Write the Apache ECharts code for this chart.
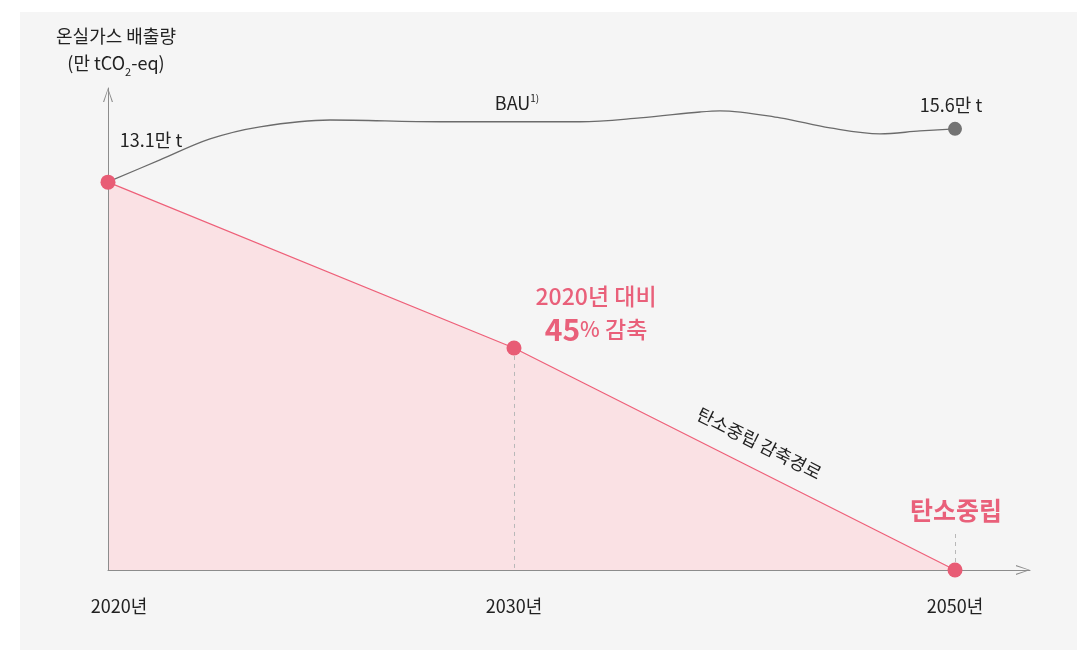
<!DOCTYPE html>
<html>
<head>
<meta charset="utf-8">
<title>온실가스 배출량 감축경로</title>
<script src="https://cdn.jsdelivr.net/npm/echarts@6/dist/echarts.min.js"></script>
<style>
  html, body { margin: 0; padding: 0; background: #ffffff; }
  #chart { width: 1087px; height: 653px; }
</style>
</head>
<body>
<div id="chart"></div>
<script>
// 가로축: 2020~2050 간격이 원본 그림에서 균등하지 않아 축상 위치로 둔다
const yearLabels = ['2020년', '2030년', '2050년']
const yearPos = [0, 40.6, 84.7]
// 탄소중립 감축경로 (만 tCO2-eq)
const pathValues = [13.1, 7.5, 0]
// BAU 곡선
const bauPos = [0, 5.2, 10.2, 15.2, 22.2, 33.2, 40.9, 47.2, 53.2, 59.2, 61.2, 67.2, 72.2, 77.2, 81.2, 84.7]
const bauValues = [13.11, 13.85, 14.56, 14.97, 15.2, 15.14, 15.14, 15.14, 15.27, 15.47, 15.51, 15.27, 14.93, 14.73, 14.83, 14.9]
const bauStartLabel = '13.1만 t'
const bauEndLabel = '15.6만 t'
const bauName = 'BAU'
const pathName = '탄소중립 감축경로'
const goalName = '탄소중립'

const FONT = '"Noto Sans CJK KR", "Noto Sans", sans-serif'
const PINK = '#e9607a'
const TEXT = '#222222'
const AXIS = '#8c8c8c'
const ARROW = 'path://M5,0 L10,14 L8.8,14 L5,1.8 L1.2,14 L0,14 Z'

const chart = echarts.init(document.getElementById('chart'))

const pathData = yearPos.map((x, i) => [x, pathValues[i]])
const bauData = bauPos.map((x, i) => {
  if (i === bauPos.length - 1) {
    return { value: [x, bauValues[i]], symbol: 'circle', symbolSize: 14 }
  }
  return [x, bauValues[i]]
})
const lastBau = bauPos.length - 1

const axisLine = {
  show: true,
  lineStyle: { color: AXIS, width: 1 },
  symbol: ['none', ARROW],
  symbolSize: [10, 14],
  symbolOffset: [0, -7]
}

chart.setOption({
  animation: false,
  textStyle: { fontFamily: FONT },
  graphic: [{
    type: 'rect',
    z: -10,
    shape: { x: 20, y: 12, width: 1057, height: 638 },
    style: { fill: '#f5f5f5' }
  }],
  grid: { left: 108, right: 57, top: 88, bottom: 83 },
  xAxis: {
    type: 'value',
    z: 3,
    min: 0,
    max: 92.2,
    axisLine: axisLine,
    axisTick: { show: false },
    splitLine: { show: false },
    axisLabel: {
      customValues: yearPos,
      margin: 27,
      fontSize: 18,
      color: TEXT,
      fontFamily: FONT,
      formatter: function (v) {
        let i = yearPos.findIndex(p => Math.abs(p - v) < 0.01)
        if (i < 0) return ''
        return i === 0 ? '{first|' + yearLabels[i] + '}' : yearLabels[i]
      },
      rich: {
        first: { fontSize: 18, color: TEXT, fontFamily: FONT, padding: [0, 0, 0, 22] }
      }
    }
  },
  yAxis: {
    type: 'value',
    z: 3,
    min: 0,
    max: 16.28,
    name: '{t|온실가스 배출량}\n{t|(만 tCO}{s|2}{t|-eq)}',
    nameLocation: 'end',
    nameGap: 11,
    nameTextStyle: {
      padding: [0, 0, 0, 16],
      rich: {
        t: { fontSize: 18, lineHeight: 27, color: TEXT, fontFamily: FONT },
        s: { fontSize: 11, lineHeight: 27, color: TEXT, fontFamily: FONT, verticalAlign: 'bottom', padding: [10, 0, 0, 0] }
      }
    },
    axisLine: axisLine,
    axisTick: { show: false },
    axisLabel: { show: false },
    splitLine: { show: false }
  },
  series: [
    {
      // 감축경로 아래 면적
      type: 'line',
      z: 1,
      data: pathData,
      symbol: 'none',
      lineStyle: { width: 0 },
      areaStyle: { color: '#fae1e4', opacity: 1 },
      silent: true,
      markLine: {
        z: 1.5,
        silent: true,
        symbol: ['none', 'none'],
        label: { show: false },
        lineStyle: { type: [4, 4], color: '#b8b8b8', width: 1 },
        data: [
          [{ coord: [yearPos[1], pathValues[1]] }, { coord: [yearPos[1], 0] }],
          [{ coord: [yearPos[2], 0] }, { coord: [yearPos[2], 1.28] }]
        ]
      }
    },
    {
      name: bauName,
      type: 'line',
      z: 2,
      data: bauData,
      smooth: 0.35,
      symbol: 'none',
      showSymbol: true,
      itemStyle: { color: '#737373' },
      lineStyle: { color: '#6b6b6b', width: 1.3 },
      markPoint: {
        symbol: 'circle',
        symbolSize: 0,
        silent: true,
        label: { show: true, position: 'inside', color: TEXT, fontSize: 18, fontFamily: FONT },
        data: [
          { coord: [bauPos[0], bauValues[0]], label: { offset: [43, -42], formatter: bauStartLabel } },
          {
            coord: [bauPos[6], bauValues[6]],
            label: {
              offset: [0, -19],
              formatter: '{b|' + bauName + '}{sup|1)}',
              rich: {
                b: { fontSize: 18, color: TEXT, fontFamily: FONT },
                sup: { fontSize: 10, color: TEXT, fontFamily: FONT, verticalAlign: 'top', padding: [0, 0, 10, 0] }
              }
            }
          },
          { coord: [bauPos[lastBau], bauValues[lastBau]], label: { offset: [-4, -24], formatter: bauEndLabel } }
        ]
      }
    },
    {
      name: pathName,
      type: 'line',
      z: 4,
      data: pathData,
      symbol: 'circle',
      symbolSize: 15,
      itemStyle: { color: '#e85c75' },
      lineStyle: { color: '#ee6079', width: 1.2 },
      markPoint: {
        symbol: 'circle',
        symbolSize: 0,
        silent: true,
        label: { show: true, position: 'inside', fontFamily: FONT },
        data: [
          {
            coord: [yearPos[1], pathValues[1]],
            label: {
              offset: [82, -35],
              formatter: '{a|2020년 대비}\n{b|45}{c|%}{a| 감축}',
              rich: {
                a: { fontSize: 23, lineHeight: 33, fontWeight: 500, color: PINK, fontFamily: FONT },
                b: { fontSize: 30, lineHeight: 33, fontWeight: 'bold', color: PINK, fontFamily: FONT },
                c: { fontSize: 21, lineHeight: 33, fontWeight: 500, color: PINK, fontFamily: FONT }
              }
            }
          },
          {
            coord: [yearPos[1], pathValues[1]],
            label: { offset: [262, -25], rotate: -26.7, formatter: pathName, color: TEXT, fontSize: 18 }
          },
          {
            coord: [yearPos[2], pathValues[2]],
            label: { offset: [1, -60], formatter: goalName, color: PINK, fontSize: 25, fontWeight: 'bold' }
          }
        ]
      }
    }
  ]
})
</script>
</body>
</html>
